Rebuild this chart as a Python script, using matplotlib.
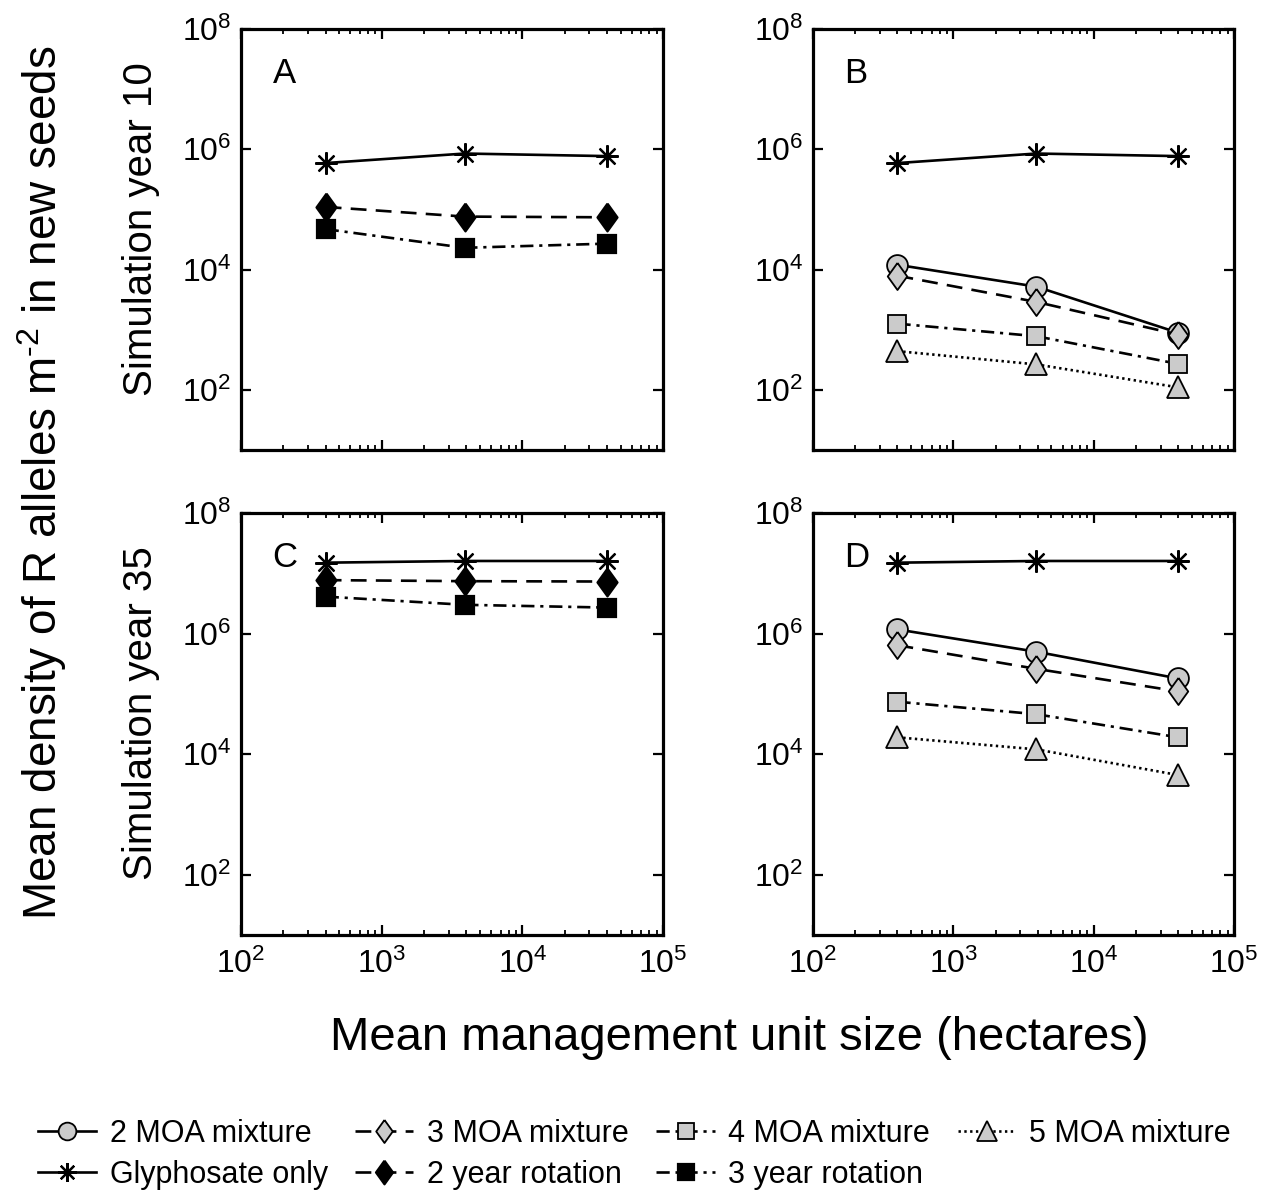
import math
import matplotlib
matplotlib.use('Agg')
import matplotlib.pyplot as plt
from matplotlib.ticker import FixedLocator, LogLocator, NullLocator, FuncFormatter, NullFormatter

plt.rcParams['font.family'] = ['Liberation Sans', 'DejaVu Sans']
plt.rcParams['mathtext.fontset'] = 'custom'
plt.rcParams['mathtext.rm'] = 'Liberation Sans'
plt.rcParams['mathtext.it'] = 'Liberation Sans:italic'
plt.rcParams['mathtext.bf'] = 'Liberation Sans:bold'

# tamanho medio da unidade de manejo (ha)
unit_size = [400, 3900, 40000]

# ano 10 de simulacao
y10_glyphosate = [5.9e5, 8.5e5, 7.7e5]
y10_rot2 = [1.1e5, 7.6e4, 7.4e4]
y10_rot3 = [4.7e4, 2.3e4, 2.7e4]
y10_moa2 = [1.2e4, 5.2e3, 890]
y10_moa3 = [7.9e3, 2.9e3, 830]
y10_moa4 = [1260, 780, 270]
y10_moa5 = [440, 265, 110]

# ano 35 de simulacao
y35_glyphosate = [1.5e7, 1.6e7, 1.6e7]
y35_rot2 = [7.7e6, 7.4e6, 7.3e6]
y35_rot3 = [4.1e6, 3.0e6, 2.7e6]
y35_moa2 = [1.17e6, 5.0e5, 1.8e5]
y35_moa3 = [6.4e5, 2.6e5, 1.1e5]
y35_moa4 = [7.4e4, 4.6e4, 1.9e4]
y35_moa5 = [1.9e4, 1.2e4, 4.5e3]

GRAY = '#cbcbcb'
diamond = [(0, 1), (0.72, 0), (0, -1), (-0.72, 0), (0, 1)]

# estilo de cada serie: marcador, cor de preenchimento, tracejado, tamanho
styles = {
    '2 MOA mixture': dict(marker='o', mfc=GRAY, dashes=None, ms=15),
    '3 MOA mixture': dict(marker=diamond, mfc=GRAY, dashes=(6, 3.5), ms=19.5),
    '4 MOA mixture': dict(marker='s', mfc=GRAY, dashes=(5, 2.2, 1.2, 2.2), ms=13),
    '5 MOA mixture': dict(marker='^', mfc=GRAY, dashes=(0.9, 1.3), ms=16.5),
    'Glyphosate only': dict(marker=(8, 2, 0), mfc='black', dashes=None, ms=16),
    '2 year rotation': dict(marker=diamond, mfc='black', dashes=(6, 3.5), ms=20),
    '3 year rotation': dict(marker='s', mfc='black', dashes=(5, 2.2, 1.2, 2.2), ms=13),
}

W, H = 1263, 1192
fig = plt.figure(figsize=(W / 100, H / 100), dpi=100)


def add_panel(left, top, right, bottom):
    return fig.add_axes([left / W, 1 - bottom / H, (right - left) / W, (bottom - top) / H])


def plot_series(ax, label, yvals):
    st = styles[label]
    line, = ax.plot(unit_size, yvals, color='black', lw=1.9, marker=st['marker'],
                    ms=st['ms'], mfc=st['mfc'], mec='black',
                    mew=1.3 if st['mfc'] == GRAY else 1.6, label=label)
    if st['dashes'] is not None:
        line.set_dashes(st['dashes'])
    return line


def log_label(v, pos):
    return r'$\mathregular{10^{%d}}$' % round(math.log10(v))


def style_axes(ax, letter, show_xlabels):
    ax.set_xscale('log')
    ax.set_yscale('log')
    ax.set_xlim(1e2, 1e5)
    ax.set_ylim(1e1, 1e8)
    ax.yaxis.set_major_locator(FixedLocator([1e2, 1e4, 1e6, 1e8]))
    ax.yaxis.set_minor_locator(NullLocator())
    ax.xaxis.set_major_locator(FixedLocator([1e2, 1e3, 1e4, 1e5]))
    ax.xaxis.set_minor_locator(LogLocator(base=10, subs=range(2, 10)))
    ax.xaxis.set_minor_formatter(NullFormatter())
    ax.yaxis.set_major_formatter(FuncFormatter(log_label))
    if show_xlabels:
        ax.xaxis.set_major_formatter(FuncFormatter(log_label))
    else:
        ax.xaxis.set_major_formatter(NullFormatter())
    ax.tick_params(which='both', direction='in', top=True, right=True, labelsize=23)
    ax.tick_params(which='major', length=7, width=1.6, pad=7)
    ax.tick_params(axis='x', which='major', pad=10)
    ax.tick_params(which='minor', length=3.5, width=1.3)
    for sp in ax.spines.values():
        sp.set_linewidth(2.3)
    ax.text(0.075, 0.895, letter, transform=ax.transAxes, fontsize=25,
            ha='left', va='center')


axA = add_panel(241, 29, 663, 450)
axB = add_panel(813, 29, 1234, 450)
axC = add_panel(241, 513, 663, 935)
axD = add_panel(813, 513, 1234, 935)

# painel A: glifosato e rotacoes, ano 10
plot_series(axA, 'Glyphosate only', y10_glyphosate)
plot_series(axA, '2 year rotation', y10_rot2)
plot_series(axA, '3 year rotation', y10_rot3)

# painel B: misturas, ano 10
plot_series(axB, 'Glyphosate only', y10_glyphosate)
plot_series(axB, '2 MOA mixture', y10_moa2)
plot_series(axB, '3 MOA mixture', y10_moa3)
plot_series(axB, '4 MOA mixture', y10_moa4)
plot_series(axB, '5 MOA mixture', y10_moa5)

# painel C: glifosato e rotacoes, ano 35
handles = {}
plot_series(axC, 'Glyphosate only', y35_glyphosate)
handles['2 year rotation'] = plot_series(axC, '2 year rotation', y35_rot2)
handles['3 year rotation'] = plot_series(axC, '3 year rotation', y35_rot3)

# painel D: misturas, ano 35
handles['Glyphosate only'] = plot_series(axD, 'Glyphosate only', y35_glyphosate)
handles['2 MOA mixture'] = plot_series(axD, '2 MOA mixture', y35_moa2)
handles['3 MOA mixture'] = plot_series(axD, '3 MOA mixture', y35_moa3)
handles['4 MOA mixture'] = plot_series(axD, '4 MOA mixture', y35_moa4)
handles['5 MOA mixture'] = plot_series(axD, '5 MOA mixture', y35_moa5)

style_axes(axA, 'A', False)
style_axes(axB, 'B', False)
style_axes(axC, 'C', True)
style_axes(axD, 'D', True)

fig.text(42 / W, 1 - 483 / H, r'Mean density of R alleles m$^{\mathregular{\text{-}2}}$ in new seeds',
         rotation=90, ha='center', va='center', fontsize=33)
fig.text(141 / W, 1 - 229 / H, 'Simulation year 10', rotation=90,
         ha='center', va='center', fontsize=29)
fig.text(141 / W, 1 - 713 / H, 'Simulation year 35', rotation=90,
         ha='center', va='center', fontsize=29)
fig.text(739 / W, 1 - 1038 / H, 'Mean management unit size (hectares)',
         ha='center', va='center', fontsize=34)

# legenda em 4 colunas, preenchida por coluna
order = ['2 MOA mixture', 'Glyphosate only', '3 MOA mixture', '2 year rotation',
         '4 MOA mixture', '3 year rotation', '5 MOA mixture']
fig.legend([handles[k] for k in order], order, ncol=4, loc='upper left',
           bbox_to_anchor=(38 / W, 1 - 1119 / H), frameon=False, fontsize=22,
           handlelength=1.9, handletextpad=0.45, columnspacing=0.9,
           labelspacing=0.35, borderpad=0, borderaxespad=0, markerscale=0.85,
           numpoints=1)

fig.savefig('out.png', dpi=100)
